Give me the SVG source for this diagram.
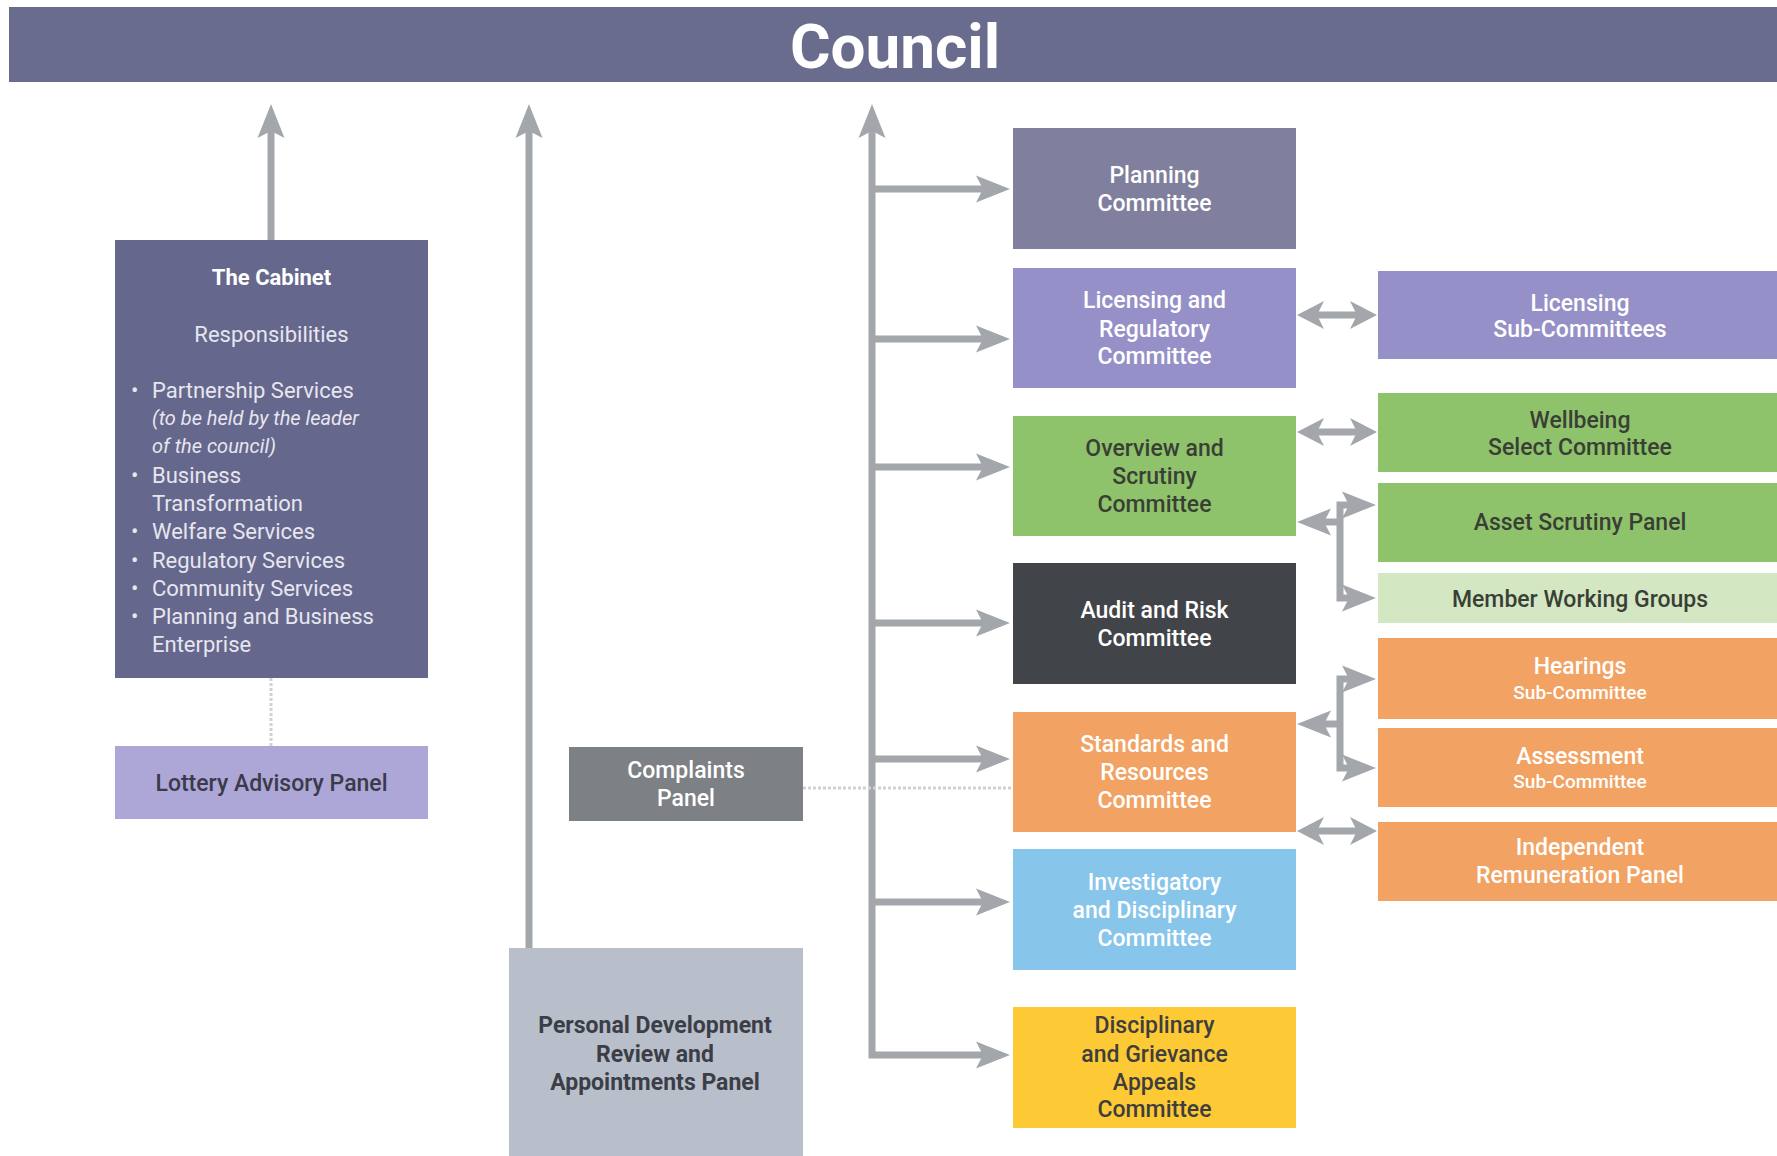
<svg xmlns="http://www.w3.org/2000/svg" width="1777" height="1156" viewBox="0 0 1777 1156">
<style>
text{font-family:Roboto,"Liberation Sans",sans-serif;}
.t{font-size:23px;font-weight:500;text-anchor:middle;}
.b{font-size:23px;font-weight:700;text-anchor:middle;fill:#3b3e47;}
.s{font-size:19px;font-weight:500;text-anchor:middle;}
.w{fill:#ffffff;}
.d{fill:#3a3f36;}
.ln{fill:none;stroke:#a3a6aa;stroke-width:7;}
.dot{fill:none;stroke:#d2d2d2;stroke-width:3;stroke-dasharray:3 2;}
.cab{font-size:22px;fill:#e6e6ef;}
.it{font-size:20px;font-style:italic;}
</style>
<defs>
<marker id="ah" viewBox="-38 -16 40 32" refX="-24" refY="0" markerWidth="40" markerHeight="32" markerUnits="userSpaceOnUse" orient="auto-start-reverse">
<path d="M0,0 L-34,-13.5 L-27,0 L-34,13.5 Z" fill="#a3a6aa"/>
</marker>
<marker id="ah2" viewBox="-30 -16 32 32" refX="-18" refY="0" markerWidth="32" markerHeight="32" markerUnits="userSpaceOnUse" orient="auto-start-reverse">
<path d="M0,0 L-27,-14 L-20,0 L-27,14 Z" fill="#a3a6aa"/>
</marker>
</defs>
<rect x="0" y="0" width="1777" height="1156" fill="#ffffff"/>

<g id="council">
<rect x="9" y="7" width="1768" height="75" fill="#6a6c8d"/>
<text x="895" y="68" font-size="62" font-weight="700" fill="#ffffff" text-anchor="middle">Council</text>
</g>

<g id="connectors">
<path class="ln" d="M271,240 V128" marker-end="url(#ah)"/>
<path class="ln" d="M529,948 V128" marker-end="url(#ah)"/>
<path class="ln" d="M986,1055 H872 V128" marker-start="url(#ah)" marker-end="url(#ah)"/>
<path class="ln" d="M872,189 H986" marker-end="url(#ah)"/>
<path class="ln" d="M872,339 H986" marker-end="url(#ah)"/>
<path class="ln" d="M872,467 H986" marker-end="url(#ah)"/>
<path class="ln" d="M872,623 H986" marker-end="url(#ah)"/>
<path class="ln" d="M872,759 H986" marker-end="url(#ah)"/>
<path class="ln" d="M872,902 H986" marker-end="url(#ah)"/>
<path class="ln" d="M1315,315 H1359" marker-start="url(#ah2)" marker-end="url(#ah2)"/>
<path class="ln" d="M1315,432 H1359" marker-start="url(#ah2)" marker-end="url(#ah2)"/>
<path class="ln" d="M1315,831 H1359" marker-start="url(#ah2)" marker-end="url(#ah2)"/>
<path class="ln" d="M1352,505 H1340 V598 H1352" marker-start="url(#ah)" marker-end="url(#ah)"/>
<path class="ln" d="M1340,522 H1321" marker-end="url(#ah)"/>
<path class="ln" d="M1352,679 H1340 V768 H1352" marker-start="url(#ah)" marker-end="url(#ah)"/>
<path class="ln" d="M1340,724 H1321" marker-end="url(#ah)"/>
<path class="dot" d="M271,678 V746"/>
<path class="dot" d="M803,788 H1013"/>
</g>

<g id="cabinet">
<rect x="115" y="240" width="313" height="438" fill="#66678c"/>
<text x="271.5" y="285" font-size="22" font-weight="700" fill="#ffffff" text-anchor="middle">The Cabinet</text>
<text x="271.5" y="342" class="cab" text-anchor="middle">Responsibilities</text>
<g class="cab">
<text x="131" y="398">•</text><text x="152" y="398">Partnership Services</text>
<text x="152" y="425" class="it">(to be held by the leader</text>
<text x="152" y="453" class="it">of the council)</text>
<text x="131" y="483">•</text><text x="152" y="483">Business</text>
<text x="152" y="511">Transformation</text>
<text x="131" y="539">•</text><text x="152" y="539">Welfare Services</text>
<text x="131" y="568">•</text><text x="152" y="568">Regulatory Services</text>
<text x="131" y="596">•</text><text x="152" y="596">Community Services</text>
<text x="131" y="624">•</text><text x="152" y="624">Planning and Business</text>
<text x="152" y="652">Enterprise</text>
</g>
</g>

<g id="lottery">
<rect x="115" y="746" width="313" height="73" fill="#aca7d6"/>
<text x="271.5" y="791" class="t" fill="#3a3a4a">Lottery Advisory Panel</text>
</g>

<g id="complaints">
<rect x="569" y="747" width="234" height="74" fill="#7d8084"/>
<text x="686" y="778" class="t w">Complaints</text>
<text x="686" y="806" class="t w">Panel</text>
</g>

<g id="pdr">
<rect x="509" y="948" width="294" height="208" fill="#b9bfca"/>
<text x="655" y="1033" class="b">Personal Development</text>
<text x="655" y="1062" class="b">Review and</text>
<text x="655" y="1090" class="b">Appointments Panel</text>
</g>

<g id="planning">
<rect x="1013" y="128" width="283" height="121" fill="#807f9d"/>
<text x="1154.5" y="183" class="t w">Planning</text>
<text x="1154.5" y="211" class="t w">Committee</text>
</g>

<g id="licensing">
<rect x="1013" y="268" width="283" height="120" fill="#9590c7"/>
<text x="1154.5" y="308" class="t w">Licensing and</text>
<text x="1154.5" y="337" class="t w">Regulatory</text>
<text x="1154.5" y="364" class="t w">Committee</text>
</g>

<g id="overview">
<rect x="1013" y="416" width="283" height="120" fill="#8fc36b"/>
<text x="1154.5" y="456" class="t d">Overview and</text>
<text x="1154.5" y="484" class="t d">Scrutiny</text>
<text x="1154.5" y="512" class="t d">Committee</text>
</g>

<g id="audit">
<rect x="1013" y="563" width="283" height="121" fill="#414448"/>
<text x="1154.5" y="618" class="t w">Audit and Risk</text>
<text x="1154.5" y="646" class="t w">Committee</text>
</g>

<g id="standards">
<rect x="1013" y="712" width="283" height="120" fill="#f2a262"/>
<text x="1154.5" y="752" class="t w">Standards and</text>
<text x="1154.5" y="780" class="t w">Resources</text>
<text x="1154.5" y="808" class="t w">Committee</text>
</g>

<g id="investigatory">
<rect x="1013" y="849" width="283" height="121" fill="#88c5ea"/>
<text x="1154.5" y="890" class="t w">Investigatory</text>
<text x="1154.5" y="918" class="t w">and Disciplinary</text>
<text x="1154.5" y="946" class="t w">Committee</text>
</g>

<g id="disciplinary">
<rect x="1013" y="1007" width="283" height="121" fill="#fdc935"/>
<text x="1154.5" y="1033" class="t" fill="#3e3e3e">Disciplinary</text>
<text x="1154.5" y="1062" class="t" fill="#3e3e3e">and Grievance</text>
<text x="1154.5" y="1090" class="t" fill="#3e3e3e">Appeals</text>
<text x="1154.5" y="1117" class="t" fill="#3e3e3e">Committee</text>
</g>

<g id="licensing-sub">
<rect x="1378" y="271" width="399" height="88" fill="#9590c7"/>
<text x="1580" y="311" class="t w">Licensing</text>
<text x="1580" y="337" class="t w">Sub-Committees</text>
</g>

<g id="wellbeing">
<rect x="1378" y="393" width="399" height="79" fill="#8fc36b"/>
<text x="1580" y="428" class="t d">Wellbeing</text>
<text x="1580" y="455" class="t d">Select Committee</text>
</g>

<g id="asset">
<rect x="1378" y="483" width="399" height="79" fill="#8fc36b"/>
<text x="1580" y="530" class="t d">Asset Scrutiny Panel</text>
</g>

<g id="member">
<rect x="1378" y="573" width="399" height="50" fill="#d3e7c3"/>
<text x="1580" y="607" class="t d">Member Working Groups</text>
</g>

<g id="hearings">
<rect x="1378" y="638" width="399" height="81" fill="#f2a262"/>
<text x="1580" y="674" class="t w">Hearings</text>
<text x="1580" y="699" class="s w">Sub-Committee</text>
</g>

<g id="assessment">
<rect x="1378" y="728" width="399" height="79" fill="#f2a262"/>
<text x="1580" y="764" class="t w">Assessment</text>
<text x="1580" y="788" class="s w">Sub-Committee</text>
</g>

<g id="independent">
<rect x="1378" y="822" width="399" height="79" fill="#f2a262"/>
<text x="1580" y="855" class="t w">Independent</text>
<text x="1580" y="883" class="t w">Remuneration Panel</text>
</g>
</svg>
